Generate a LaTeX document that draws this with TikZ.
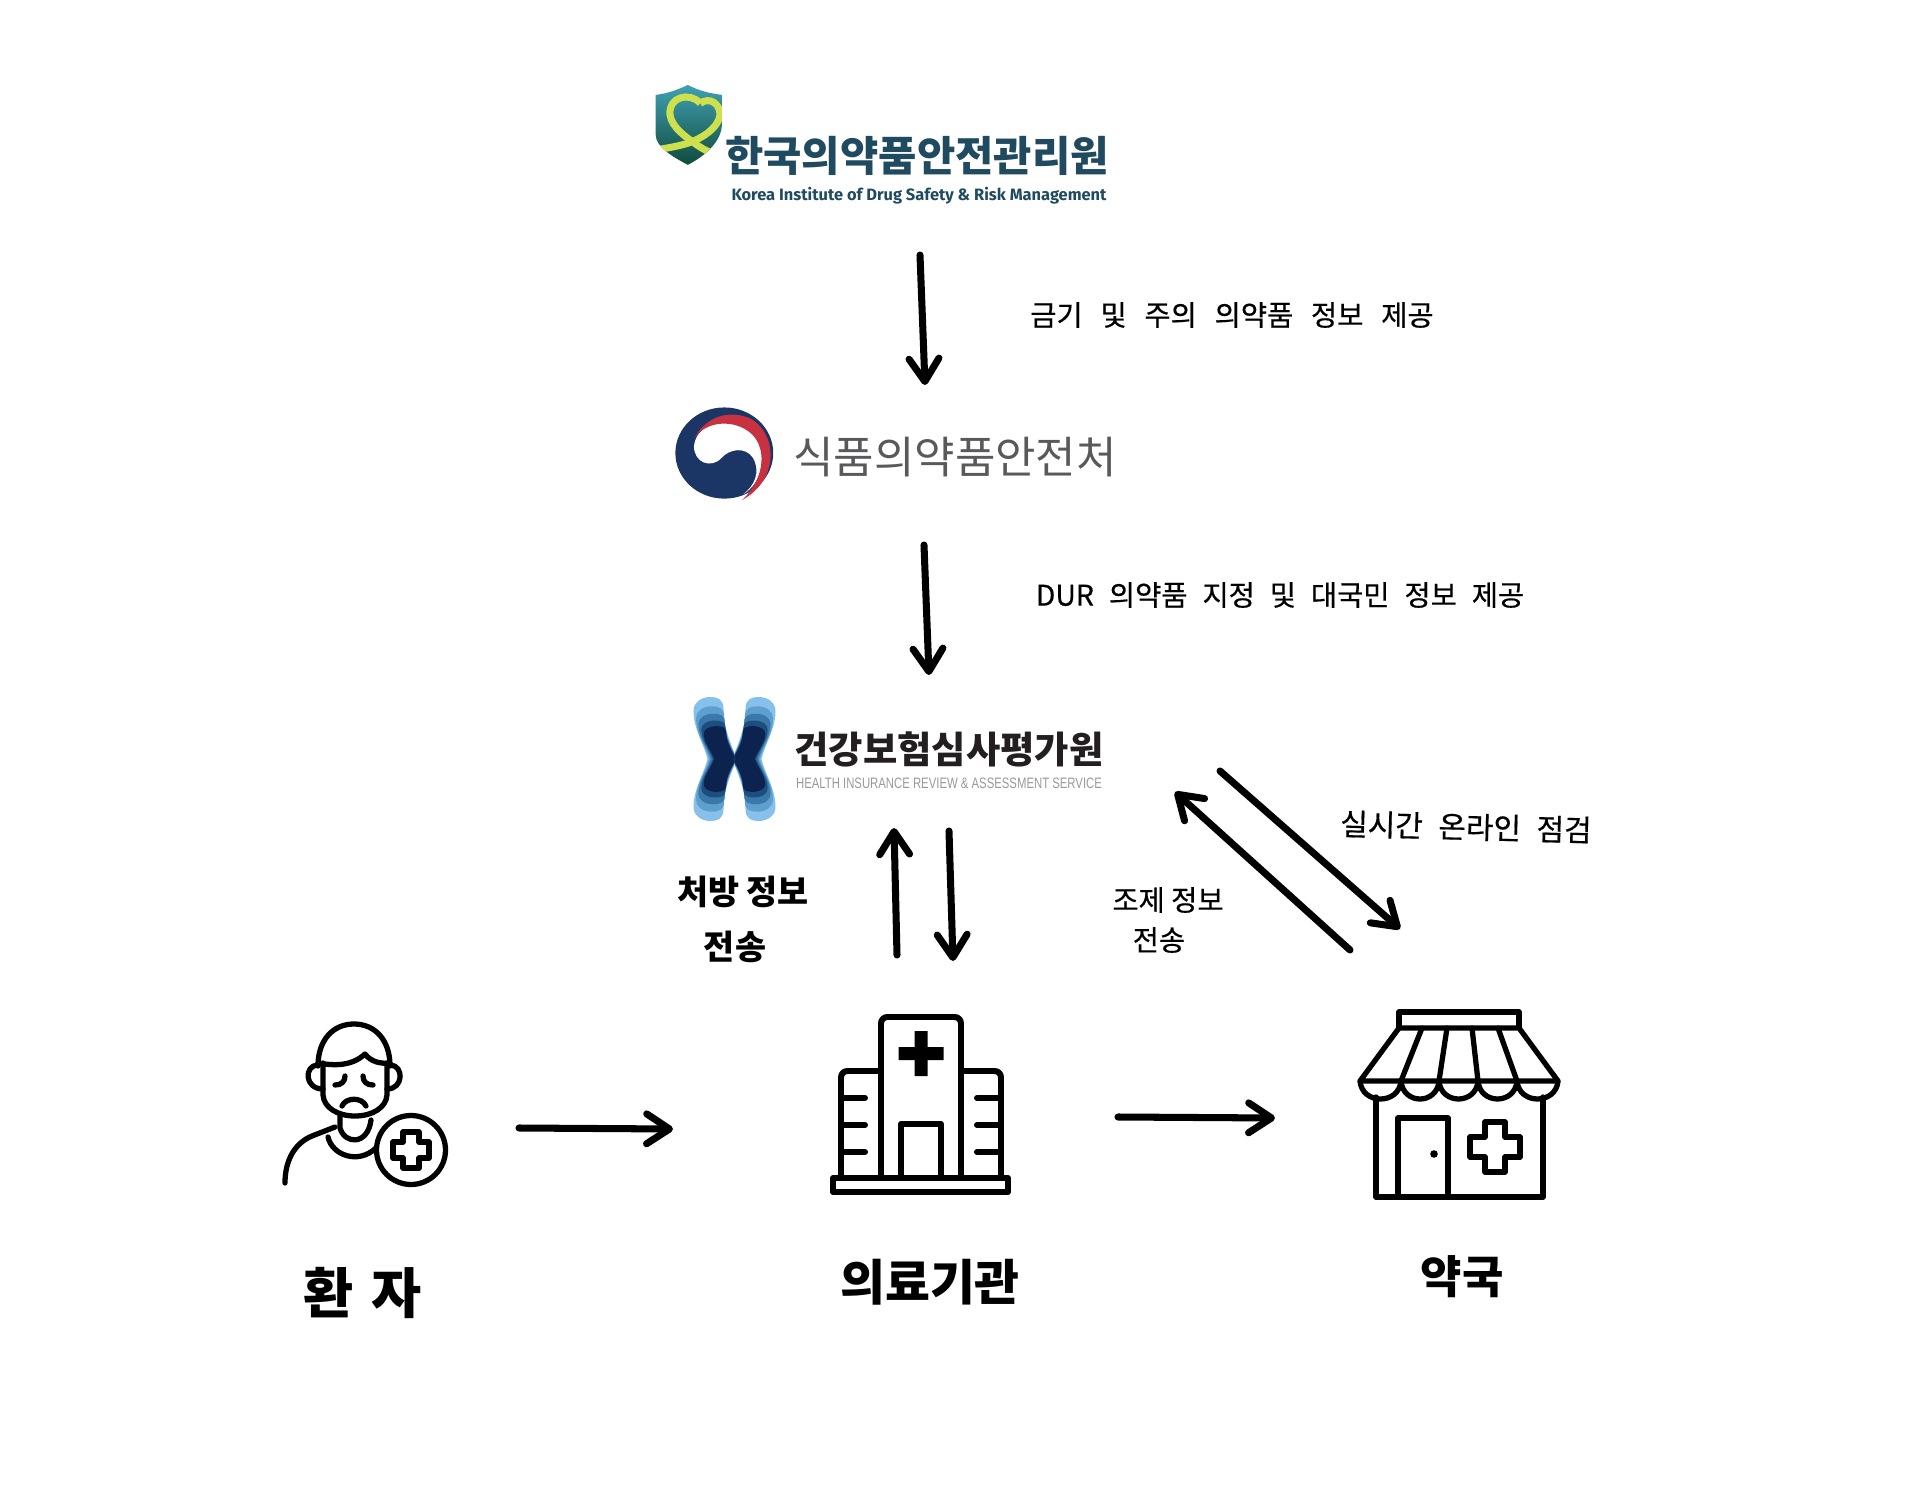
\documentclass[tikz,border=0pt]{standalone}
\usepackage{fontspec}
\setmainfont{Noto Sans CJK KR}
\newfontfamily\handfont[FakeBold=0.5]{Noto Sans CJK KR}
\newfontfamily\kidsfont{Fira Sans}
\newfontfamily\hirafont{Liberation Sans}
\usetikzlibrary{arrows.meta}

\definecolor{kidsblue}{HTML}{1F4A5F}
\definecolor{kidsteal}{HTML}{41A2B6}
\definecolor{kidsmid}{HTML}{2F8F8C}
\definecolor{kidsgreen}{HTML}{0F4A3A}
\definecolor{kidsribbon}{HTML}{CFE04F}
\definecolor{mfdsgrey}{HTML}{58595B}
\definecolor{mfdsnavy}{HTML}{1B3564}
\definecolor{mfdsred}{HTML}{C8313F}
\definecolor{hiradark}{HTML}{231F20}
\definecolor{hirafive}{HTML}{85C1EA}
\definecolor{hirafour}{HTML}{5F9FCF}
\definecolor{hirathree}{HTML}{3B78AA}
\definecolor{hiratwo}{HTML}{1E4E80}
\definecolor{hiraone}{HTML}{0C2350}

\tikzset{
	every node/.style={inner sep=0pt},
	flow/.style={line width=2pt, line cap=round, -{Straight Barb[round, length=6.5pt, width=8.5pt]}},
	icon/.style={line width=1.5pt, line cap=round, line join=round},
	label/.style={font=\handfont\fontsize{8.1}{10}\selectfont},
	boldlabel/.style={font=\fontsize{9.6}{11}\selectfont\bfseries},
	bigname/.style={font=\fontsize{13.9}{16}\selectfont\bfseries}
}

\newcommand{\plusoutline}[2]{(-#2,-#1) -- (#2,-#1) -- (#2,-#2) -- (#1,-#2) -- (#1,#2) -- (#2,#2) -- (#2,#1) -- (-#2,#1) -- (-#2,#2) -- (-#1,#2) -- (-#1,-#2) -- (-#2,-#2) -- cycle}

\begin{document}
\begin{tikzpicture}[x = 0.01cm, y = -0.01cm]
	\useasboundingbox (0, 0) rectangle (1905, 1503);

	% Shield logo
	\begin{scope}[shift={(620, 60)}, x = 0.00357cm, y = -0.00333cm]
		\begin{scope}
			\clip (190, 75) .. controls (225, 95) and (255, 100) .. (285, 105) -- (285, 200) .. controls (280, 250) and (235, 290) .. (190, 315) .. controls (145, 290) and (100, 260) .. (100, 225) -- (100, 105) .. controls (135, 100) and (160, 90) .. (190, 75) -- cycle;
			\shade[top color=kidsteal, middle color=kidsmid, bottom color=kidsgreen] (90, 70) rectangle (295, 320);
			\draw[line width=2pt, kidsribbon] (225, 130) .. controls (195, 95) and (135, 110) .. (140, 165) .. controls (145, 205) and (190, 235) .. (215, 255) .. controls (235, 270) and (255, 280) .. (275, 285);
			\draw[line width=2pt, kidsribbon] (225, 130) .. controls (250, 110) and (280, 130) .. (280, 165) .. controls (275, 205) and (230, 235) .. (190, 250) .. controls (160, 260) and (130, 265) .. (100, 270);
		\end{scope}
	\end{scope}

	% Taegeuk logo
	\begin{scope}[shift={(620, 60)}, x = 0.00357cm, y = -0.00333cm]
		\fill[mfdsnavy] (292, 1181) circle [radius=137];
		\fill[white] (207, 1160) .. controls (207, 1210) and (255, 1230) .. (285, 1195) .. controls (305, 1170) and (350, 1160) .. (372, 1195) .. controls (395, 1240) and (375, 1280) .. (345, 1305) .. controls (400, 1270) and (415, 1180) .. (375, 1120) .. controls (330, 1065) and (215, 1080) .. (207, 1160) -- cycle;
		\fill[mfdsred] (207, 1140) .. controls (235, 1075) and (300, 1050) .. (360, 1075) .. controls (440, 1115) and (450, 1260) .. (342, 1322) .. controls (400, 1265) and (415, 1175) .. (370, 1125) .. controls (320, 1075) and (235, 1085) .. (207, 1140) -- cycle;
	\end{scope}

	% X logo
	\foreach \sx/\sy in {1/1, -1/1, 1/-1, -1/-1}
		\foreach \wd/\ht/\tone in {1/1/hirafive, .94/.85/hirafour, .88/.73/hirathree, .81/.62/hiratwo, .75/.53/hiraone}
			\fill[\tone, shift={(734.5, 759)}, xscale=\sx*\wd, yscale=\sy*\ht] (0, -6) .. controls (6, -20) and (11, -35) .. (11, -50) .. controls (11, -60) and (17, -62) .. (24, -62) .. controls (34, -62) and (41, -56) .. (41, -48) .. controls (41, -30) and (31, -16) .. (27, 0) -- (0, 0) -- cycle;

	% Nodes
	\node[font=\fontsize{11.85}{14}\selectfont\bfseries, text=kidsblue] (kids) at (917, 156) {한국의약품안전관리원};
	\node[font=\kidsfont\fontsize{4.67}{6}\selectfont\bfseries, text=kidsblue] (kidseng) at (919, 196) {Korea Institute of Drug Safety \& Risk Management};
	\node[font=\fontsize{12.5}{15}\selectfont, text=mfdsgrey] (mfds) at (955, 457) {식품의약품안전처};
	\node[font=\fontsize{10.6}{13}\selectfont\bfseries, text=hiradark] (hira) at (949, 749) {건강보험심사평가원};
	\node[font=\hirafont\fontsize{4.3}{5}\selectfont, text=black!40] (hiraeng) at (949, 783) {\scalebox{.75}[1]{HEALTH INSURANCE REVIEW \& ASSESSMENT SERVICE}};

	\node[label] (contra) at (1232, 315) {금기\hspace{.4em} 및\hspace{.4em} 주의\hspace{.4em} 의약품\hspace{.4em} 정보\hspace{.4em} 제공};
	\node[label] (durinfo) at (1280, 595) {DUR\hspace{.3em} 의약품\hspace{.3em} 지정\hspace{.3em} 및\hspace{.3em} 대국민\hspace{.3em} 정보\hspace{.3em} 제공};
	\node[boldlabel] (rxinfo) at (743, 892) {처방 정보};
	\node[boldlabel] (rxsend) at (735, 947) {전송};
	\node[label] (dispinfo) at (1168, 900) {조제 정보};
	\node[label] (dispsend) at (1159, 940) {전송};
	\node[label, font=\handfont\fontsize{8.5}{10}\selectfont, rotate=-1.5] (check) at (1466, 827) {실시간\hspace{.3em} 온라인\hspace{.3em} 점검};
	\node[bigname, font=\fontsize{15.5}{18}\selectfont\bfseries] (patient) at (363, 1293) {환\hspace{.1em} 자};
	\node[bigname] (clinic) at (930, 1282) {의료기관};
	\node[bigname, font=\fontsize{12.8}{15}\selectfont\bfseries] (pharmacy) at (1462, 1277) {약국};

	% Patient icon
	\draw[icon] (318, 1066) .. controls (318, 1040) and (333, 1024) .. (354, 1024) .. controls (375, 1024) and (390, 1040) .. (390, 1066);
	\draw[icon] (318, 1063) .. controls (335, 1066) and (352, 1066) .. (365, 1054) .. controls (371, 1062) and (381, 1064) .. (390, 1063);
	\draw[icon] (323, 1063) -- (323, 1095) .. controls (324, 1108) and (338, 1116) .. (355, 1116) .. controls (372, 1116) and (386, 1108) .. (387, 1095) -- (387, 1063);
	\draw[icon] (318, 1065) .. controls (304, 1065) and (304, 1089) .. (323, 1089);
	\draw[icon] (390, 1065) .. controls (404, 1065) and (404, 1089) .. (387, 1089);
	\draw[icon] (335, 1085) .. controls (341, 1085) and (345, 1082) .. (345, 1076);
	\draw[icon] (373, 1085) .. controls (367, 1085) and (363, 1082) .. (363, 1076);
	\draw[icon] (342, 1106) .. controls (346, 1097) and (362, 1097) .. (366, 1106);
	\draw[icon] (340, 1116) -- (340, 1128) .. controls (345, 1145) and (368, 1145) .. (371, 1120);
	\draw[icon] (328, 1137) .. controls (332, 1155) and (358, 1165) .. (376, 1148);
	\draw[icon] (335, 1127) -- (312, 1136) .. controls (295, 1143) and (285, 1160) .. (285, 1183);
	\draw[icon] (411, 1150) circle [radius=34.5];
	\draw[icon, shift={(411, 1150)}] \plusoutline{18}{8};

	% Hospital icon
	\draw[icon, line width=1.7pt, rounded corners=1.8pt] (881, 1178) -- (881, 1017) -- (961, 1017) -- (961, 1178);
	\draw[icon, line width=1.7pt, rounded corners=1.8pt] (881, 1071) -- (841, 1071) -- (841, 1178);
	\draw[icon, line width=1.7pt, rounded corners=1.8pt] (961, 1071) -- (1001, 1071) -- (1001, 1178);
	\draw[icon, line width=1.7pt] (833, 1178) rectangle (1008, 1192);
	\draw[icon, line width=1.7pt] (901, 1178) -- (901, 1124) -- (941, 1124) -- (941, 1178);
	\fill[black] (914.5, 1031) rectangle (927.5, 1076) (898.5, 1047) rectangle (943.5, 1060);
	\foreach \rowy in {1098, 1125, 1152} {
		\draw[icon, line width=1.7pt] (841, \rowy) -- (865, \rowy);
		\draw[icon, line width=1.7pt] (977, \rowy) -- (1001, \rowy);
	}

	% Pharmacy icon
	\draw[icon] (1399, 1028) -- (1399, 1012) -- (1519, 1012) -- (1519, 1028);
	\draw[icon] (1360, 1081) -- (1399, 1028) -- (1519, 1028) -- (1558, 1081) -- cycle;
	\draw[icon] (1422, 1028) -- (1401, 1081) (1447, 1028) -- (1439, 1081) (1472, 1028) -- (1478, 1081) (1498, 1028) -- (1517, 1081);
	\draw[icon] (1360, 1081) .. controls (1362, 1105) and (1399, 1105) .. (1401, 1081) .. controls (1403, 1105) and (1437, 1105) .. (1439, 1081) .. controls (1441, 1105) and (1476, 1105) .. (1478, 1081) .. controls (1480, 1105) and (1515, 1105) .. (1517, 1081) .. controls (1519, 1105) and (1556, 1105) .. (1558, 1081);
	\draw[icon] (1376, 1097) -- (1376, 1197) -- (1543, 1197) -- (1543, 1097);
	\draw[icon] (1398, 1197) -- (1398, 1118) -- (1448, 1118) -- (1448, 1197);
	\fill[black] (1434, 1154) circle [radius=3.8];
	\draw[icon, shift={(1495, 1147)}] \plusoutline{25}{10};

	% Edge ends
	\coordinate (kidsout) at (920, 255);
	\coordinate (mfdsin) at (925, 385);
	\coordinate (mfdsout) at (924, 545);
	\coordinate (hirain) at (929, 675);
	\coordinate (clinicup) at (897, 955);
	\coordinate (hiraupin) at (894, 828);
	\coordinate (hiradown) at (949, 831);
	\coordinate (clinicdown) at (953, 961);
	\coordinate (storeup) at (1350, 950);
	\coordinate (hiraright) at (1175, 792);
	\coordinate (hiracheck) at (1220, 771);
	\coordinate (storedown) at (1400, 929);
	\coordinate (patientout) at (519, 1128);
	\coordinate (clinicin) at (673, 1129);
	\coordinate (clinicout) at (1118, 1117);
	\coordinate (storein) at (1275, 1118);

	% Edges
	\draw[flow] (kidsout) -- (mfdsin);
	\draw[flow] (mfdsout) -- (hirain);
	\draw[flow] (clinicup) -- (hiraupin);
	\draw[flow] (hiradown) -- (clinicdown);
	\draw[flow] (storeup) -- (hiraright);
	\draw[flow] (hiracheck) -- (storedown);
	\draw[flow] (patientout) -- (clinicin);
	\draw[flow] (clinicout) -- (storein);
\end{tikzpicture}
\end{document}
